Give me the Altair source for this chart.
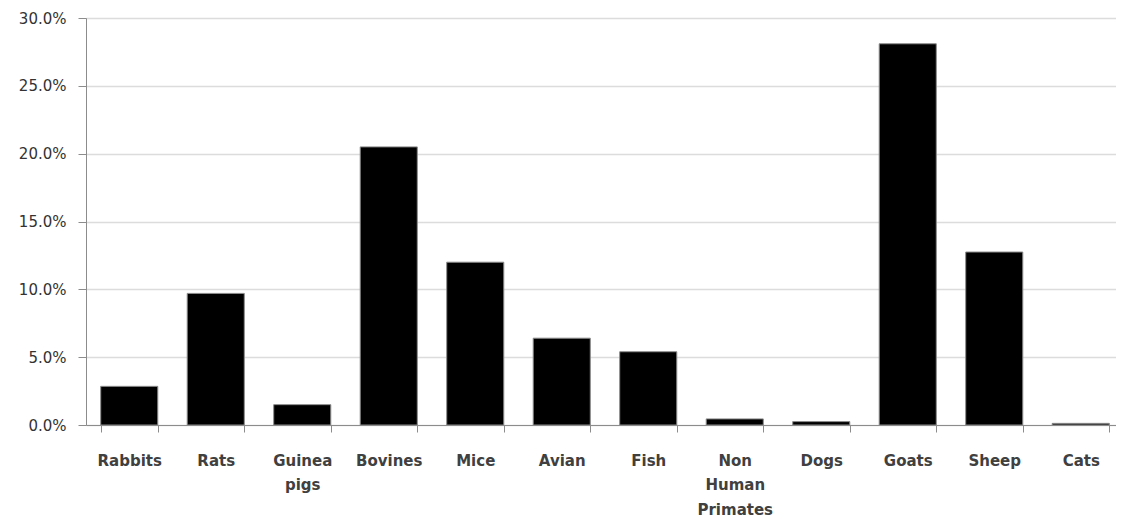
import altair as alt
import pandas as pd

categories = ["Rabbits", "Rats", "Guinea pigs", "Bovines", "Mice", "Avian", "Fish",
              "Non Human Primates", "Dogs", "Goats", "Sheep", "Cats"]
shares = [0.0285, 0.097, 0.015, 0.205, 0.120, 0.064, 0.054, 0.0045, 0.0025, 0.281, 0.1275, 0.0012]
y_ticks = [0.0, 0.05, 0.10, 0.15, 0.20, 0.25, 0.30]

df = pd.DataFrame({"animal": categories, "share": shares})

FONT = "DejaVu Sans"

chart = alt.Chart(df).mark_bar(
    color="black", stroke="#8c8c8c", strokeWidth=1
).encode(
    x=alt.X("animal:N", sort=categories, title=None,
            scale=alt.Scale(paddingInner=0.34, paddingOuter=0.17, range=[0, 1038]),
            axis=alt.Axis(labelAngle=0, labelFont=FONT, labelFontSize=15,
                          labelFontWeight="bold", labelColor="#404040",
                          labelPadding=21, labelLineHeight=24.5,
                          labelExpr="split(datum.label, ' ')",
                          tickBand="extent", tickSize=7, tickColor="#8c8c8c",
                          domainColor="#8c8c8c", grid=False, labelBaseline="top")),
    y=alt.Y("share:Q", title=None,
            scale=alt.Scale(domain=[0, 0.3], nice=False),
            axis=alt.Axis(values=y_ticks, format=".1%", labelFont=FONT,
                          labelFontSize=15, labelColor="#333333", labelPadding=12,
                          tickSize=8, tickColor="#8c8c8c", domainColor="#8c8c8c",
                          gridColor="#dcdcdc", gridWidth=1.5)),
).properties(
    width=1030, height=407,
    autosize=alt.AutoSizeParams(type="none"),
    padding={"left": 78, "top": 10, "right": 0, "bottom": 93},
).configure_view(stroke=None).configure(background="white")

chart.save("out.html", embed_options={"renderer": "svg", "actions": False})
